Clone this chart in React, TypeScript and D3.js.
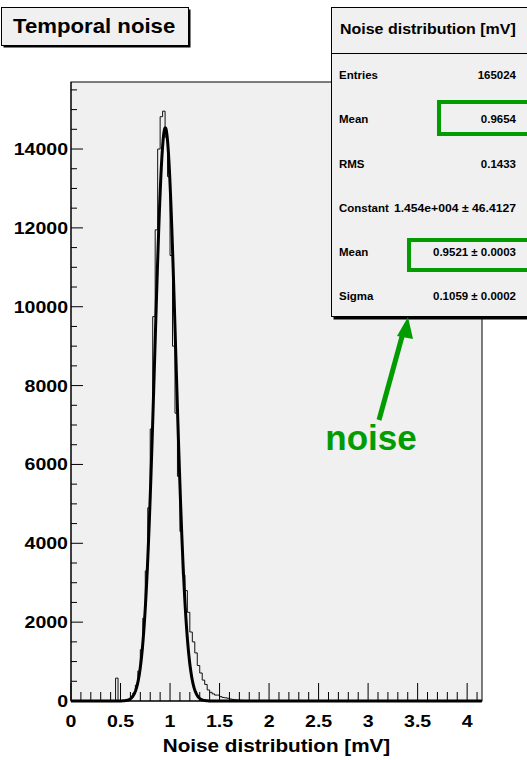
import React from "react";
import * as d3 from "d3";

// ---------- data ----------
const binWidth = 0.025;
const histStart = 0.45;
const histCounts = [
  580, 0, 0, 5, 12, 30, 90, 200, 400, 760, 1300, 2100, 3300, 4900, 6900, 9750,
  11950, 14000, 14820, 14960, 14300, 13300, 11300, 9000, 7300, 5700, 4300, 3200,
  2800, 2250, 1750, 1500, 1220, 900, 710, 530, 420, 280, 220, 180, 150, 150, 110,
  90, 80, 70, 50, 40, 30, 25, 20, 15, 12, 10, 8, 6, 5, 4,
];
const fitConstant = 14540;
const fitMean = 0.9521;
const fitSigma = 0.1059;

const xTickValues = [0, 0.5, 1, 1.5, 2, 2.5, 3, 3.5, 4];
const xTickLabels = ["0", "0.5", "1", "1.5", "2", "2.5", "3", "3.5", "4"];
const yTickValues = [0, 2000, 4000, 6000, 8000, 10000, 12000, 14000];
const yTickLabels = ["0", "2000", "4000", "6000", "8000", "10000", "12000", "14000"];

const statsTitle = "Noise distribution [mV]";
const statsLabels = ["Entries", "Mean", "RMS", "Constant", "Mean", "Sigma"];
const statsValues = [
  "165024",
  "0.9654",
  "0.1433",
  "1.454e+004 \u00b1 46.4127",
  "0.9521 \u00b1 0.0003",
  "0.1059 \u00b1 0.0002",
];
const titleText = "Temporal noise";
const xAxisTitle = "Noise distribution [mV]";
const annotationText = "noise";

// ---------- layout ----------
const W = 527;
const H = 760;
const FONT = "'Liberation Sans', Arial, Helvetica, sans-serif";
const SX = 1.15;
const GREEN = "#009c00";
const xMax = 4.15;
const yMax = 15700;

const x = d3.scaleLinear().domain([0, xMax]).range([71, 482]);
const y = d3.scaleLinear().domain([0, yMax]).range([701, 82]);

function SText({ x: tx, y: ty, anchor = "start", size, children, fill = "#000", weight = "bold" }: any) {
  return (
    <text
      transform={`translate(${tx},${ty}) scale(${SX},1)`}
      textAnchor={anchor}
      fontSize={size}
      fontWeight={weight}
      fontFamily={FONT}
      fill={fill}
    >
      {children}
    </text>
  );
}

export default function App() {
  // histogram bins
  const nBins = Math.round(xMax / binWidth);
  const startIdx = Math.round(histStart / binWidth);
  const bins: [number, number][] = [];
  for (let i = 0; i < nBins; i++) {
    const j = i - startIdx;
    const c = j >= 0 && j < histCounts.length ? histCounts[j] : 0;
    bins.push([i * binWidth, c]);
  }
  bins.push([xMax, bins[bins.length - 1][1]]);
  const histLine = d3
    .line<[number, number]>()
    .x((d) => x(d[0]))
    .y((d) => y(d[1]))
    .curve(d3.curveStepAfter);

  // gaussian fit function drawn from its fitted parameters
  const fitPts: [number, number][] = d3.range(0, xMax + 1e-9, 0.004).map((v) => [
    v,
    fitConstant * Math.exp(-0.5 * ((v - fitMean) / fitSigma) ** 2),
  ]);
  const fitLine = d3
    .line<[number, number]>()
    .x((d) => x(d[0]))
    .y((d) => y(d[1]))
    .curve(d3.curveLinear);

  const xMinor = d3.range(0, xMax + 1e-9, 0.1);
  const yMinor = d3.range(0, yMax, 500);

  const rowY = [79, 123, 168, 212, 256, 300];

  return (
    <svg
      width={W}
      height={H}
      style={{ position: "absolute", left: 0, top: 0, background: "#ffffff" }}
    >
      <rect x={0} y={0} width={W} height={H} fill="#ffffff" />
      {/* frame */}
      <rect x={71} y={82} width={411} height={619} fill="#f0f0f0" stroke="#000" strokeWidth={1} />

      {/* histogram */}
      <path d={histLine(bins) || ""} fill="none" stroke="#111" strokeWidth={1} />
      {/* fit */}
      <path d={fitLine(fitPts) || ""} fill="none" stroke="#000" strokeWidth={3} strokeLinejoin="round" />

      {/* x axis */}
      <line x1={71} x2={482} y1={701} y2={701} stroke="#000" strokeWidth={1} />
      {xMinor.map((v, i) => {
        const major = i % 5 === 0;
        return (
          <line
            key={"xm" + i}
            x1={x(v)}
            x2={x(v)}
            y1={701}
            y2={701 - (major ? 18 : 9)}
            stroke="#000"
            strokeWidth={1}
          />
        );
      })}
      {xTickValues.map((v, i) => (
        <SText key={"xl" + i} x={x(v)} y={727} anchor="middle" size={17}>
          {xTickLabels[i]}
        </SText>
      ))}
      <SText x={276.5} y={752} anchor="middle" size={18}>
        {xAxisTitle}
      </SText>

      {/* y axis */}
      <line x1={71} x2={71} y1={82} y2={701} stroke="#000" strokeWidth={1} />
      {yMinor.map((v, i) => {
        const major = i % 4 === 0;
        return (
          <line
            key={"ym" + i}
            x1={71}
            x2={71 + (major ? 12 : 6)}
            y1={y(v)}
            y2={y(v)}
            stroke="#000"
            strokeWidth={1}
          />
        );
      })}
      {yTickValues.map((v, i) => (
        <SText key={"yl" + i} x={68} y={y(v) + 6} anchor="end" size={17}>
          {yTickLabels[i]}
        </SText>
      ))}

      {/* title box */}
      <rect x={3.5} y={9.5} width={187} height={38} fill="#000" />
      <rect x={1.5} y={7.5} width={187} height={38} fill="#f0f0f0" stroke="#000" strokeWidth={1} />
      <SText x={13} y={33} size={19.3}>
        {titleText}
      </SText>

      {/* stats box */}
      <rect x={333.5} y={9.5} width={210} height={310} fill="#000" />
      <rect x={331.5} y={7.5} width={210} height={309} fill="#f0f0f0" stroke="#000" strokeWidth={1} />
      <line x1={331.5} x2={541} y1={53.5} y2={53.5} stroke="#000" strokeWidth={1} />
      <SText x={340} y={34} size={13.9}>
        {statsTitle}
      </SText>
      {statsLabels.map((lab, i) => (
        <g key={"st" + i}>
          <SText x={339} y={rowY[i]} size={10}>
            {lab}
          </SText>
          <SText x={516} y={rowY[i]} anchor="end" size={i === 3 ? 10.6 : 10}>
            {statsValues[i]}
          </SText>
        </g>
      ))}

      {/* green highlight boxes */}
      <rect x={439} y={102} width={110} height={32} fill="none" stroke={GREEN} strokeWidth={4} />
      <rect x={409} y={240} width={140} height={30} fill="none" stroke={GREEN} strokeWidth={4} />

      {/* arrow */}
      <line x1={379} y1={420} x2={403} y2={333} stroke={GREEN} strokeWidth={5} />
      <polygon points="408,317 397,336 413,339" fill={GREEN} />
      <text x={371} y={450} textAnchor="middle" fontSize={35} fontWeight="bold" fontFamily={FONT} fill={GREEN}>
        {annotationText}
      </text>
    </svg>
  );
}
